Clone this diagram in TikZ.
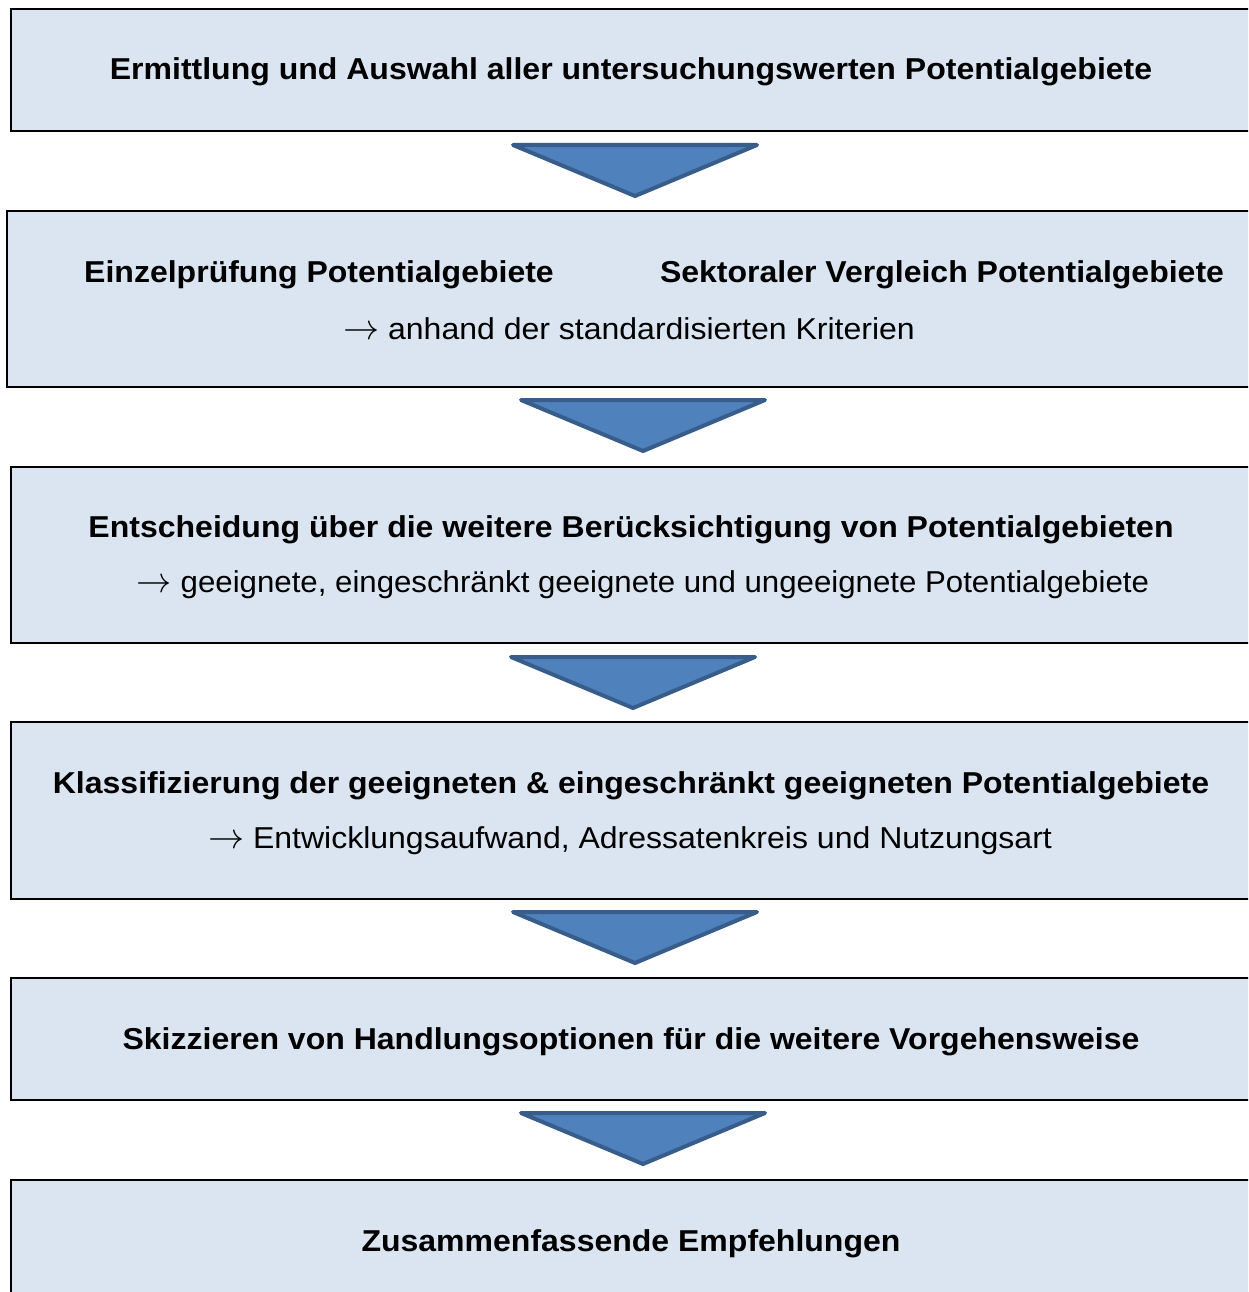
\documentclass[tikz,border=0pt]{standalone}
\usepackage{fontspec}
\setmainfont{Liberation Sans}[FakeStretch=1.06]
\definecolor{boxfill}{HTML}{DBE5F1}
\definecolor{arrfill}{HTML}{4F81BD}
\definecolor{arrdraw}{HTML}{385D8A}
\tikzset{
  stepbox/.style={draw=black, line width=2.6pt, fill=boxfill},
  arrowtri/.style={fill=arrfill, draw=arrdraw, line width=4pt, line join=round},
  headtxt/.style={font=\fontsize{30.2}{34}\selectfont\bfseries, inner sep=0pt, anchor=base},
  subtxt/.style={font=\fontsize{30.2}{34}\selectfont, inner sep=0pt, anchor=base}
}
\newcommand{\rarr}{\scalebox{1.45}{$\rightarrow$}}
\newcommand{\downtri}[3]{% left x, top y, apex y
  \draw[arrowtri] (#1,#2) -- ++(244,0) -- (#1+122,#3) -- cycle;}
\begin{document}
\begin{tikzpicture}[x=1pt,y=-1pt]
\useasboundingbox (0,0) rectangle (1248,1292);
\clip (0,0) rectangle (1248,1292);
\fill[white] (0,0) rectangle (1248,1292);
% boxes
\draw[stepbox] (11,9) rectangle (1262,131);
\draw[stepbox] (7,211) rectangle (1262,387);
\draw[stepbox] (11,467) rectangle (1262,643);
\draw[stepbox] (11,722) rectangle (1262,899);
\draw[stepbox] (11,978) rectangle (1262,1100);
\draw[stepbox] (11,1180) rectangle (1262,1310);
% arrows
\downtri{513}{145}{196}
\downtri{521}{400}{451}
\downtri{511}{657}{708}
\downtri{513}{912}{963}
\downtri{521}{1113}{1164}
% texts
\node[headtxt] (t1) at (631,80) {Ermittlung und Auswahl aller untersuchungswerten Potentialgebiete};
\node[headtxt] (t2a) at (319,282) {Einzelprüfung Potentialgebiete};
\node[headtxt] (t2b) at (942,282) {Sektoraler Vergleich Potentialgebiete};
\node[subtxt] (t2c) at (629,339) {\rarr{} anhand der standardisierten Kriterien};
\node[headtxt] (t3a) at (631,537) {Entscheidung über die weitere Berücksichtigung von Potentialgebieten};
\node[subtxt, xscale=0.975] (t3b) at (643,592) {\rarr{} geeignete, eingeschränkt geeignete und ungeeignete Potentialgebiete};
\node[headtxt] (t4a) at (631,793) {Klassifizierung der geeigneten \& eingeschränkt geeigneten Potentialgebiete};
\node[subtxt] (t4b) at (630,848) {\rarr{} Entwicklungsaufwand, Adressatenkreis und Nutzungsart};
\node[headtxt] (t5) at (631,1049) {Skizzieren von Handlungsoptionen für die weitere Vorgehensweise};
\node[headtxt] (t6) at (631,1251) {Zusammenfassende Empfehlungen};
\end{tikzpicture}
\end{document}
